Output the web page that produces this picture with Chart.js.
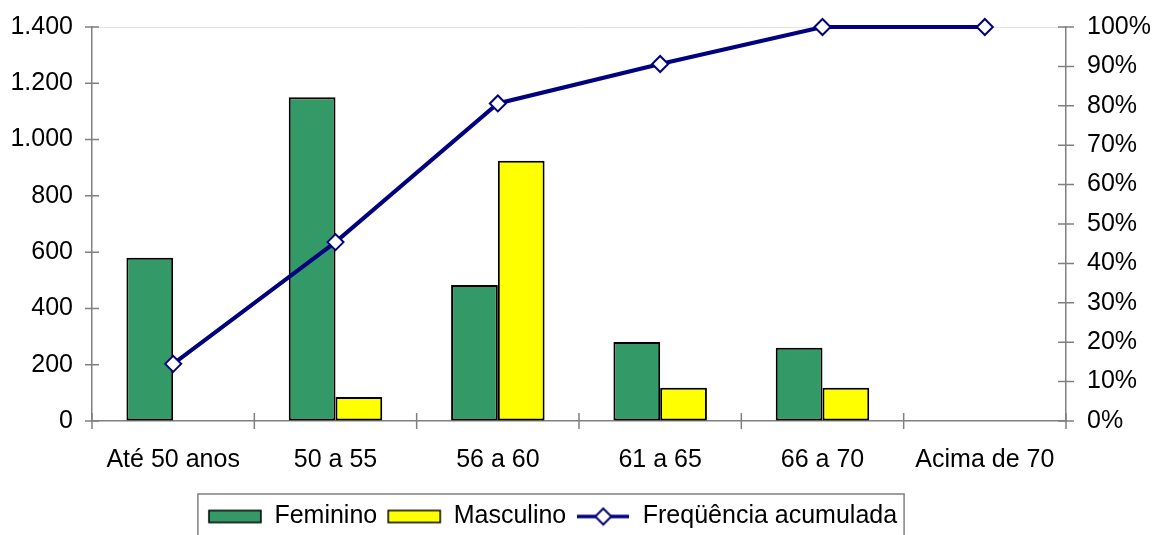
<!DOCTYPE html>
<html>
<head>
<meta charset="utf-8">
<script src="https://cdn.jsdelivr.net/npm/chart.js@4.4.1/dist/chart.umd.min.js"></script>
<style>
  body { margin: 0; background: #fff; }
  #wrap { width: 1153px; height: 535px; }
</style>
</head>
<body>
<div id="wrap"><canvas id="chart" width="1153" height="535"></canvas></div>
<script>
// categories and series
var faixas = ['Até 50 anos', '50 a 55', '56 a 60', '61 a 65', '66 a 70', 'Acima de 70'];
var feminino = [580, 1150, 483, 281, 260, 0];
var masculino = [0, 85, 925, 118, 118, 0];
var freqAcumulada = [14.5, 45.4, 80.6, 90.6, 100, 100];
var leftTicks = [0, 200, 400, 600, 800, 1000, 1200, 1400];
var rightTicks = [0, 10, 20, 30, 40, 50, 60, 70, 80, 90, 100];

var VERDE = '#339966';
var AMARELO = '#ffff00';
var AZUL = '#000080';
var EIXO = '#808080';

Chart.defaults.font.family = "'Liberation Sans', Arial, sans-serif";
Chart.defaults.font.size = 25;
Chart.defaults.color = '#000';

function milhar(v) {
    return String(v).replace(/\B(?=(\d{3})+(?!\d))/g, '.');
}

// little canvases used as legend swatches
function boxSwatch(cor) {
    var c = document.createElement('canvas');
    c.width = 56; c.height = 16;
    var g = c.getContext('2d');
    g.fillStyle = cor;
    g.fillRect(2, 2, 52, 12);
    g.strokeStyle = '#000';
    g.lineWidth = 1.5;
    g.strokeRect(2, 2, 52, 12);
    return c;
}
function lineSwatch() {
    var c = document.createElement('canvas');
    c.width = 52; c.height = 20;
    var g = c.getContext('2d');
    g.strokeStyle = AZUL;
    g.lineWidth = 3.5;
    g.beginPath(); g.moveTo(0, 10); g.lineTo(52, 10); g.stroke();
    g.beginPath();
    g.moveTo(26, 2); g.lineTo(34, 10); g.lineTo(26, 18); g.lineTo(18, 10); g.closePath();
    g.fillStyle = '#fff'; g.fill();
    g.lineWidth = 2; g.stroke();
    return c;
}

// tick marks that cross the axis lines, like the original
var crossTicks = {
    id: 'crossTicks',
    beforeDatasetsDraw: function(chart) {
        var ctx = chart.ctx, a = chart.chartArea, s = chart.scales;
        ctx.save();
        ctx.strokeStyle = EIXO;
        ctx.lineWidth = 1.5;
        ctx.beginPath();
        leftTicks.forEach(function(v) {
            var py = s.y.getPixelForValue(v);
            ctx.moveTo(a.left - 7, py); ctx.lineTo(a.left + 7, py);
        });
        rightTicks.forEach(function(v) {
            var py = s.y1.getPixelForValue(v);
            ctx.moveTo(a.right - 8, py); ctx.lineTo(a.right + 8, py);
        });
        var n = faixas.length;
        for (var i = 0; i <= n; i++) {
            var px = i === 0 ? a.left : (i === n ? a.right :
                (s.x.getPixelForValue(i - 1) + s.x.getPixelForValue(i)) / 2);
            ctx.moveTo(px, a.bottom - 8); ctx.lineTo(px, a.bottom + 8);
        }
        ctx.stroke();
        ctx.restore();
    }
};

// nudge the legend left/down to where the original sits, then frame it
var legendFrame = {
    id: 'legendFrame',
    afterLayout: function(chart) {
        var lg = chart.legend;
        lg.left -= 24; lg.right -= 24;
        lg.top += 4; lg.bottom += 4;
    },
    afterDraw: function(chart) {
        var hb = chart.legend.legendHitBoxes;
        if (!hb || !hb.length) return;
        var l = hb[0].left - 10, r = hb[hb.length - 1].left + hb[hb.length - 1].width + 7;
        var t = hb[0].top - 10;
        var ctx = chart.ctx;
        ctx.save();
        ctx.strokeStyle = EIXO;
        ctx.lineWidth = 1.5;
        ctx.strokeRect(l, t, r - l, 60);
        ctx.restore();
    }
};

function noPad(scale) {
    scale.paddingTop = 0;
    scale.paddingBottom = 0;
}

var swatches = [boxSwatch(VERDE), boxSwatch(AMARELO), lineSwatch()];

new Chart(document.getElementById('chart'), {
    type: 'bar',
    data: {
        labels: faixas,
        datasets: [
            {
                label: 'Feminino',
                data: feminino,
                backgroundColor: VERDE,
                borderColor: '#000',
                borderWidth: 2,
                borderSkipped: false,
                categoryPercentage: 0.576,
                barPercentage: 1.0,
                yAxisID: 'y',
                order: 1
            },
            {
                label: 'Masculino',
                data: masculino,
                backgroundColor: AMARELO,
                borderColor: '#000',
                borderWidth: 2,
                borderSkipped: false,
                categoryPercentage: 0.576,
                barPercentage: 1.0,
                yAxisID: 'y',
                order: 1
            },
            {
                type: 'line',
                label: 'Freqüência acumulada',
                data: freqAcumulada,
                borderColor: AZUL,
                borderWidth: 4,
                tension: 0,
                clip: false,
                pointStyle: 'rectRot',
                pointRadius: 8,
                pointBorderWidth: 2,
                pointBackgroundColor: '#fff',
                pointBorderColor: AZUL,
                yAxisID: 'y1',
                order: 0
            }
        ]
    },
    options: {
        responsive: false,
        animation: false,
        layout: {
            padding: { top: 27, left: 0, right: 0, bottom: 0 }
        },
        scales: {
            x: {
                grid: { display: false, drawTicks: false },
                border: { color: EIXO, width: 1.5 },
                ticks: { padding: 24, maxRotation: 0, autoSkip: false },
                afterFit: function(scale) { scale.height = 69; }
            },
            y: {
                position: 'left',
                min: 0,
                max: 1400,
                afterBuildTicks: function(scale) {
                    scale.ticks = leftTicks.map(function(v) { return { value: v }; });
                },
                ticks: {
                    padding: 19,
                    callback: function(v) { return milhar(v); }
                },
                grid: {
                    drawTicks: false,
                    color: function(c) { return c.tick && c.tick.value === 1400 ? '#e4e4e4' : 'rgba(0,0,0,0)'; }
                },
                border: { color: EIXO, width: 1.5 },
                afterFit: function(scale) { scale.width = 92; noPad(scale); }
            },
            y1: {
                position: 'right',
                min: 0,
                max: 100,
                afterBuildTicks: function(scale) {
                    scale.ticks = rightTicks.map(function(v) { return { value: v }; });
                },
                ticks: {
                    padding: 21,
                    callback: function(v) { return v + '%'; }
                },
                grid: { display: false, drawTicks: false },
                border: { color: EIXO, width: 1.5 },
                afterFit: function(scale) { scale.width = 87; noPad(scale); }
            }
        },
        plugins: {
            legend: {
                display: true,
                position: 'bottom',
                labels: {
                    usePointStyle: true,
                    pointStyleWidth: 54,
                    padding: 10,
                    font: { size: 25 },
                    generateLabels: function(chart) {
                        return chart.data.datasets.map(function(ds, i) {
                            return {
                                text: ds.label,
                                pointStyle: swatches[i],
                                fillStyle: 'rgba(0,0,0,0)',
                                strokeStyle: 'rgba(0,0,0,0)',
                                lineWidth: 0,
                                hidden: false,
                                datasetIndex: i
                            };
                        });
                    }
                }
            },
            tooltip: { enabled: false }
        }
    },
    plugins: [crossTicks, legendFrame]
});
</script>
</body>
</html>
